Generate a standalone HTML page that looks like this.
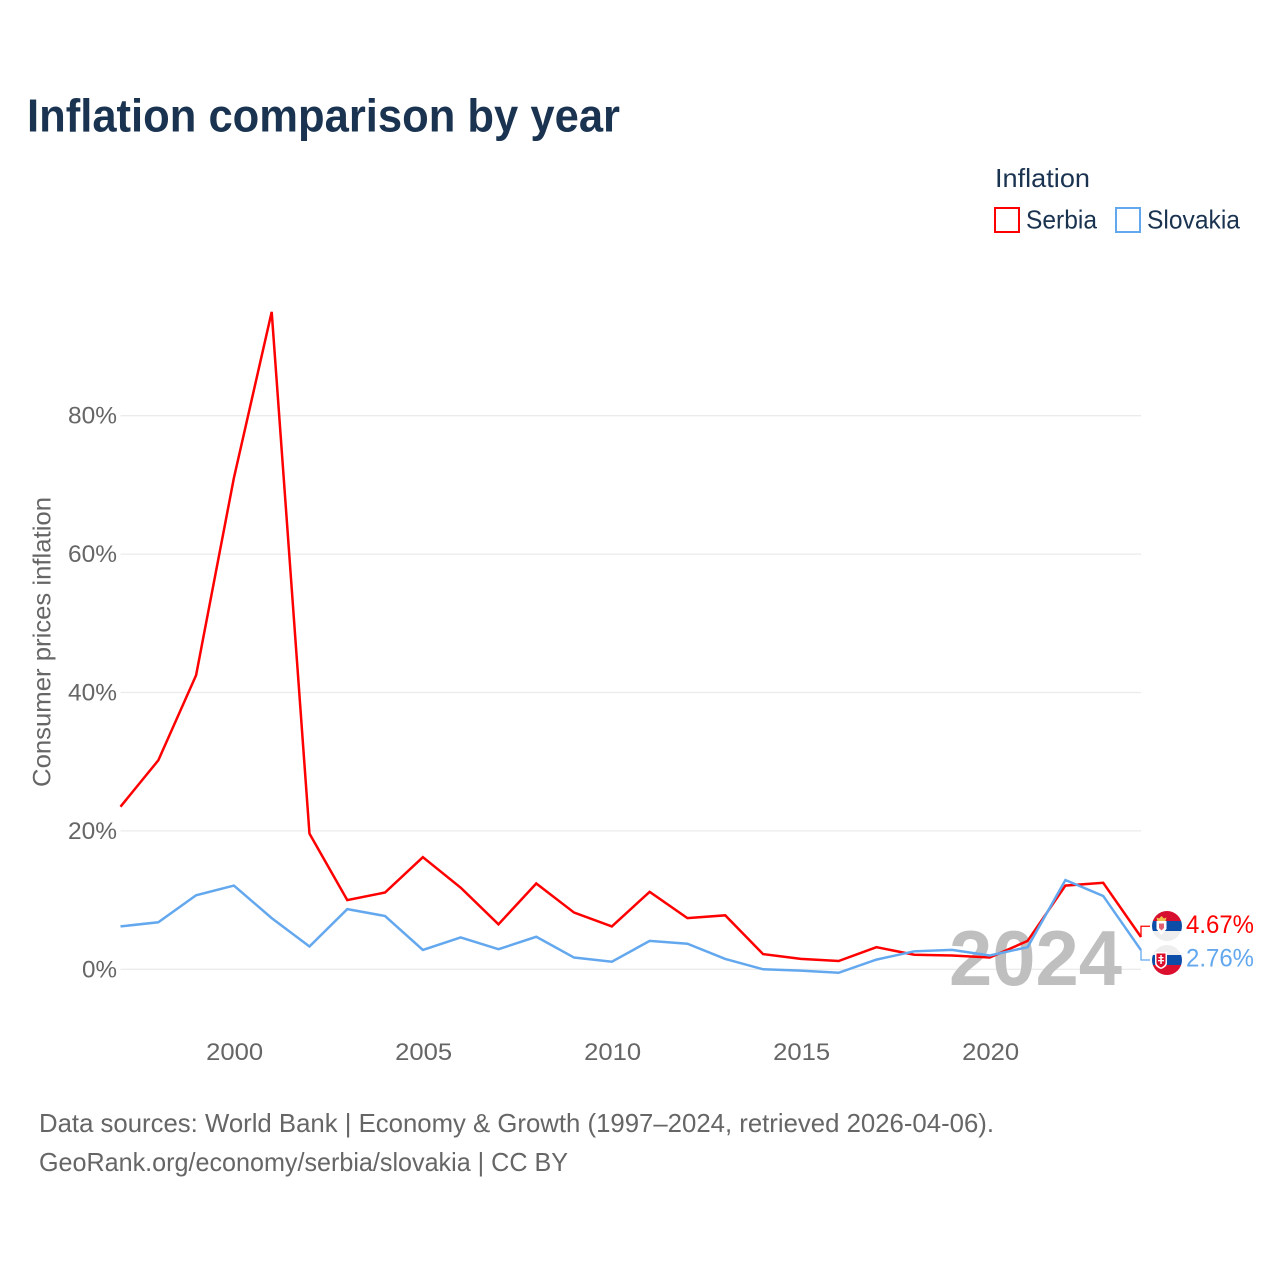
<!DOCTYPE html>
<html lang="en">
<head>
<meta charset="utf-8">
<title>Inflation comparison by year</title>
<style>
html,body{margin:0;padding:0;background:#fff;}
svg{display:block;font-family:"Liberation Sans",sans-serif;}
</style>
</head>
<body>
<svg id="chart" xmlns="http://www.w3.org/2000/svg" width="1280" height="1280" viewBox="0 0 1280 1280">
  <defs>
    <clipPath id="flag-clip-rs"><circle cx="1167" cy="926" r="15"/></clipPath>
    <clipPath id="flag-clip-sk"><circle cx="1167" cy="960" r="15"/></clipPath>
  </defs>
  <rect x="0" y="0" width="1280" height="1280" fill="#ffffff"/>
  <text x="27" y="131.500" font-size="46" font-weight="700" fill="#1a3350" textLength="593" lengthAdjust="spacingAndGlyphs">Inflation comparison by year</text>

  <g>
    <text x="995" y="187" font-size="26" fill="#1a3350" textLength="95" lengthAdjust="spacingAndGlyphs">Inflation</text>
    <rect x="995" y="208" width="24" height="24" fill="none" stroke="#ff0000" stroke-width="2"/>
    <text x="1026" y="228.500" font-size="26" fill="#1a3350" textLength="71" lengthAdjust="spacingAndGlyphs">Serbia</text>
    <rect x="1116" y="208" width="24" height="24" fill="none" stroke="#63a8ee" stroke-width="2"/>
    <text x="1147" y="228.500" font-size="26" fill="#1a3350" textLength="93" lengthAdjust="spacingAndGlyphs">Slovakia</text>
  </g>

  <text transform="translate(50.500,642) rotate(-90)" text-anchor="middle" font-size="25" fill="#666666" textLength="290" lengthAdjust="spacingAndGlyphs">Consumer prices inflation</text>

  <g id="grid"></g>
  <g id="y-ticks"></g>
  <g id="x-ticks"></g>

  <text x="949" y="985" font-size="78" font-weight="700" fill="#bfbfbf" textLength="173" lengthAdjust="spacingAndGlyphs">2024</text>

  <g id="series"></g>

  <g clip-path="url(#flag-clip-rs)">
    <rect x="1152" y="911" width="30" height="10" fill="#d8102f"/>
    <rect x="1152" y="921" width="30" height="10" fill="#0c4da8"/>
    <rect x="1152" y="931" width="30" height="10" fill="#eeeeee"/>
    <path d="M1157.500 921l-1-3.500l2.500 1l2.500-2.500l2.500 2.500l2.500-1l-1 3.500z" fill="#f0c04a"/>
    <path d="M1156.500 921h10v8l-5 6l-5-6z" fill="#ffffff"/>
    <path d="M1159 923.500h5v4.500l-2.500 2.500l-2.500-2.500z" fill="#e0606f"/>
  </g>
  <g clip-path="url(#flag-clip-sk)">
    <rect x="1152" y="945" width="30" height="10" fill="#eeeeee"/>
    <rect x="1152" y="955" width="30" height="10" fill="#0c4da8"/>
    <rect x="1152" y="965" width="30" height="10" fill="#dd0f2e"/>
    <path d="M1155 952h12v11c0 3-3 5-6 6c-3-1-6-3-6-6z" fill="#ffffff"/>
    <path d="M1156.500 953.500h9v9c0 2.500-2.500 4-4.500 5c-2-1-4.500-2.500-4.500-5z" fill="#dd0f2e"/>
    <rect x="1160.300" y="955" width="1.500" height="9" fill="#ffffff"/>
    <rect x="1158.500" y="957" width="5" height="1.300" fill="#ffffff"/>
    <rect x="1158" y="960" width="6" height="1.300" fill="#ffffff"/>
  </g>

  <g id="end-labels"></g>

  <text x="39" y="1132" font-size="26" fill="#666666" textLength="955" lengthAdjust="spacingAndGlyphs">Data sources: World Bank | Economy &amp; Growth (1997–2024, retrieved 2026-04-06).</text>
  <text x="39" y="1171" font-size="26" fill="#666666" textLength="529" lengthAdjust="spacingAndGlyphs">GeoRank.org/economy/serbia/slovakia | CC BY</text>
</svg>
<script>
const years = [1997,1998,1999,2000,2001,2002,2003,2004,2005,2006,2007,2008,2009,2010,2011,2012,2013,2014,2015,2016,2017,2018,2019,2020,2021,2022,2023,2024];
const serbiaValues = [23.5,30.2,42.5,71,95,19.6,10,11.1,16.2,11.8,6.5,12.4,8.2,6.2,11.2,7.4,7.8,2.2,1.5,1.2,3.2,2.1,2,1.7,4.1,12.1,12.5,4.67];
const slovakiaValues = [6.2,6.8,10.7,12.1,7.4,3.3,8.7,7.7,2.8,4.6,2.9,4.7,1.7,1.1,4.1,3.7,1.5,0,-0.2,-0.5,1.4,2.6,2.8,2,3.2,12.9,10.6,2.76];
const yTicks = [0,20,40,60,80];
const xTicks = [2000,2005,2010,2015,2020];

const NS = 'http://www.w3.org/2000/svg';
const plotLeft = 120.500, plotRight = 1141, zeroY = 969.3, pxPerUnit = 6.92;
function xScale(year){ return plotLeft + (year - years[0]) * (plotRight - plotLeft) / (years[years.length-1] - years[0]); }
function yScale(v){ return zeroY - v * pxPerUnit; }
function make(tag, attrs, parent){
  const el = document.createElementNS(NS, tag);
  for (const k in attrs) el.setAttribute(k, attrs[k]);
  parent.appendChild(el);
  return el;
}

const gridG = document.getElementById('grid');
const yG = document.getElementById('y-ticks');
yTicks.forEach(function(t){
  const line = make('line', {x1:plotLeft, x2:plotRight, y1:yScale(t), y2:yScale(t), stroke:'#ebebeb', 'stroke-width':1.3}, gridG);
  
  
  const label = make('text', {x:117, y:yScale(t)+8, 'text-anchor':'end', 'font-size':24, fill:'#666666', textLength:49, lengthAdjust:'spacingAndGlyphs'}, yG);
  label.textContent = t + '%';
  
  
  if (t === 0) { label.setAttribute('textLength', 35); }
});

const xG = document.getElementById('x-ticks');
xTicks.forEach(function(t){
  const label = make('text', {x:xScale(t)+0.8, y:1060, 'text-anchor':'middle', 'font-size':24, fill:'#666666', textLength:57, lengthAdjust:'spacingAndGlyphs'}, xG);
  label.textContent = String(t);
  
  
});

const seriesG = document.getElementById('series');
function drawLine(values, color, name){
  const pts = values.map(function(v,i){ return xScale(years[i]).toFixed(2) + ',' + yScale(v).toFixed(2); }).join(' ');
  const line = make('polyline', {points:pts, fill:'none', stroke:color, 'stroke-width':2.5, 'stroke-linejoin':'miter', 'stroke-miterlimit':2}, seriesG);
  
  
}
drawLine(serbiaValues, '#ff0000', 'line-serbia');
drawLine(slovakiaValues, '#63a8ee', 'line-slovakia');

const endG = document.getElementById('end-labels');
function drawEnd(values, color, offset, name){
  const last = values[values.length-1];
  const yEnd = yScale(last);
  const yLabel = yEnd + offset;
  const conn = make('polyline', {points:plotRight + ',' + yEnd + ' ' + plotRight + ',' + yLabel + ' 1150,' + yLabel, fill:'none', stroke:color, 'stroke-width':1.3}, endG);
  
  
  const label = make('text', {x:1186, y:yLabel+6.5, 'font-size':25, fill:color, textLength:68, lengthAdjust:'spacingAndGlyphs'}, endG);
  label.textContent = last.toFixed(2) + '%';
  
  
}
drawEnd(serbiaValues, '#ff0000', -10.7, 'serbia');
drawEnd(slovakiaValues, '#63a8ee', 9.8, 'slovakia');
</script>
</body>
</html>
